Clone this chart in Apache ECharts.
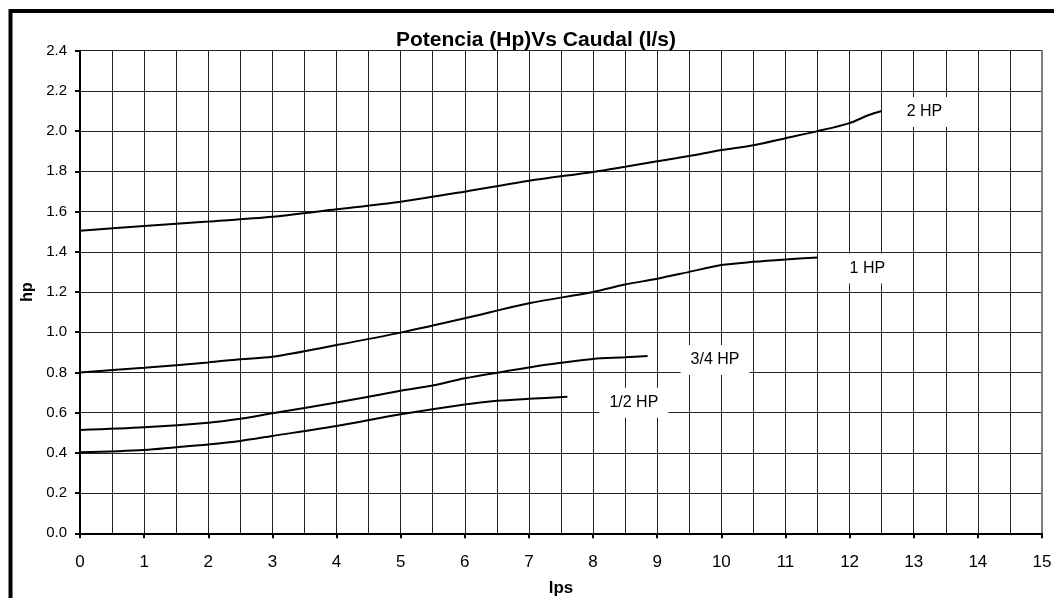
<!DOCTYPE html>
<html><head><meta charset="utf-8">
<script src="https://cdn.jsdelivr.net/npm/echarts@6/dist/echarts.min.js"></script>
<style>html,body{margin:0;padding:0;background:#fff;overflow:hidden}#c{width:1054px;height:598px}</style>
</head><body><div id="c"></div>
<script>
const titleText = 'Potencia (Hp)Vs Caudal (l/s)';
const xName = 'lps';
const yName = 'hp';
const seriesNames = ['2 HP', '1 HP', '3/4 HP', '1/2 HP'];
const x2hp = [0,1,2,3,4,5,6,7,8,8.5,9,9.5,10,10.5,11,11.5,12,12.3,12.5];
const y2hp = [1.505,1.528,1.55,1.574,1.611,1.649,1.699,1.753,1.797,1.823,1.85,1.876,1.906,1.93,1.965,2.0,2.04,2.08,2.10];
const x1hp = [0,1,2,2.5,3,4,5,6,7,8,8.5,9,9.5,10,10.5,11,11.5];
const y1hp = [0.80,0.823,0.85,0.866,0.878,0.936,0.998,1.069,1.144,1.20,1.237,1.266,1.30,1.334,1.35,1.362,1.372];
const x34hp = [0,1,2,2.5,3,4,5,5.5,6,7,7.5,8,8.5,8.85];
const y34hp = [0.514,0.527,0.55,0.57,0.597,0.65,0.709,0.735,0.771,0.825,0.848,0.867,0.875,0.882];
const x12hp = [0,1,2,2.5,3,4,5,6,6.5,7,7.6];
const y12hp = [0.403,0.414,0.442,0.459,0.484,0.534,0.592,0.641,0.659,0.669,0.679];

const xs = [x2hp, x1hp, x34hp, x12hp];
const ys = [y2hp, y1hp, y34hp, y12hp];
const labelOffsets = [[15, 1], [22, 11], [33, 4], [32, 6]];

const font = '"Liberation Sans", Arial, sans-serif';
const chart = echarts.init(document.getElementById('c'));
chart.setOption({
  animation: false,
  backgroundColor: '#fff',
  grid: {left: 80, right: 12, top: 50.7, bottom: 64.7, containLabel: false, outerBoundsMode: 'none'},
  graphic: [
    {type: 'rect', shape: {x: 10.5, y: 11, width: 1100, height: 700}, style: {fill: 'none', stroke: '#000', lineWidth: 4}, z: 100},
    {type: 'text', x: 536, y: 40, style: {text: titleText, font: 'bold 21px ' + font, fill: '#000', textAlign: 'center', textVerticalAlign: 'middle'}}
  ],
  xAxis: {
    type: 'value', min: 0, max: 15, interval: 1,
    name: xName, nameLocation: 'middle', nameGap: 47,
    nameTextStyle: {fontFamily: font, fontWeight: 'bold', fontSize: 17, color: '#000'},
    axisLine: {show: true, onZero: false, lineStyle: {color: '#000', width: 2}},
    axisTick: {show: true, inside: false, length: 5, lineStyle: {color: '#000', width: 2}},
    axisLabel: {margin: 21, fontFamily: font, fontSize: 17, color: '#000'},
    splitLine: {show: true, lineStyle: {color: '#222', width: 1}},
    minorTick: {show: false, splitNumber: 2},
    minorSplitLine: {show: true, lineStyle: {color: '#222', width: 1}}
  },
  yAxis: [{
    type: 'value', min: 0, max: 2.4, interval: 0.2,
    name: yName, nameLocation: 'middle', nameGap: 42, nameRotate: 90,
    nameTextStyle: {fontFamily: font, fontWeight: 'bold', fontSize: 16, color: '#000'},
    axisLine: {show: true, lineStyle: {color: '#000', width: 2}},
    axisTick: {show: true, inside: false, length: 5, lineStyle: {color: '#000', width: 2}},
    axisLabel: {margin: 13, fontFamily: font, fontSize: 15, color: '#000', formatter: v => v.toFixed(1)},
    splitLine: {show: true, lineStyle: {color: '#222', width: 1}}
  }, {
    type: 'value', min: 0, max: 2.4, interval: 0.2, position: 'right',
    axisLine: {show: true, lineStyle: {color: '#808080', width: 2}},
    axisTick: {show: false}, axisLabel: {show: false}, splitLine: {show: false}
  }],
  series: seriesNames.map((name, i) => ({
    name: name, type: 'line', smooth: 0.3, symbol: 'none',
    data: xs[i].map((x, j) => [x, ys[i][j]]),
    lineStyle: {color: '#000', width: 2},
    endLabel: {
      show: true, formatter: name, offset: labelOffsets[i], distance: 0,
      fontFamily: font, fontSize: 16, color: '#000',
      backgroundColor: '#fff', padding: [7, 10, 7, 10]
    },
    z: 3
  }))
});
</script></body></html>
